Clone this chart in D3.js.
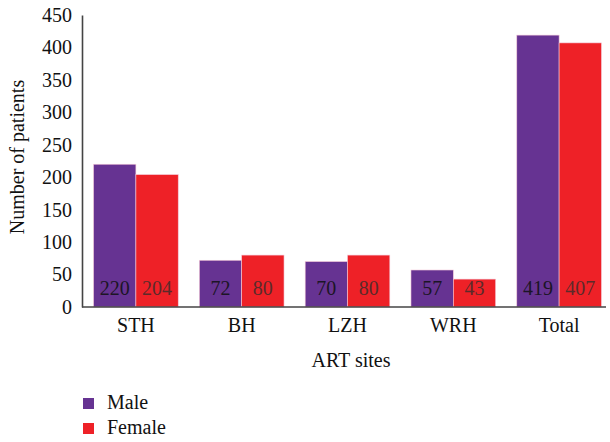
<!DOCTYPE html>
<html>
<head>
<meta charset="utf-8">
<script src="https://cdn.jsdelivr.net/npm/d3@7"></script>
<style>
  body { margin: 0; background: #fff; }
</style>
</head>
<body>
<div id="chart"></div>
<script>
// data
const sites = ["STH", "BH", "LZH", "WRH", "Total"]
const male = [220, 72, 70, 57, 419]
const female = [204, 80, 80, 43, 407]
const yTicks = [0, 50, 100, 150, 200, 250, 300, 350, 400, 450]
const groups = ["Male", "Female"]
const colors = ["#663392", "#ee2127"]
const labelColors = ["#1c1526", "#5c2a2a"]

const svgWidth = 610
const svgHeight = 442

// pick the first serif face that is really installed
function pickFont() {
  let ctx = document.createElement("canvas").getContext("2d")
  let sample = "Number of patients 0123456789"
  ctx.font = "20px monospace"
  let base = ctx.measureText(sample).width
  let candidates = ["Liberation Serif", "Tinos", "Times New Roman", "DejaVu Serif", "Noto Serif", "FreeSerif"]
  for (let f of candidates) {
    ctx.font = `20px "${f}", monospace`
    if (Math.abs(ctx.measureText(sample).width - base) > 0.5) return `"${f}", serif`
  }
  return "serif"
}
const fontFamily = pickFont()
const fs = "20px"

let svg = d3.select("#chart")
  .append("svg")
  .attr("width", svgWidth)
  .attr("height", svgHeight)
  .style("font-family", fontFamily)

let x0 = d3.scaleBand()
  .domain(sites)
  .range([83, 612])
  .paddingInner(0.2)
  .paddingOuter(0.1)

let x1 = d3.scaleBand()
  .domain(groups)
  .range([0, x0.bandwidth()])

let y = d3.scaleLinear()
  .domain([0, 450])
  .range([307, 15])

let rows = sites.map((s, i) => ({ site: s, values: [male[i], female[i]] }))

// bars
let siteG = svg.selectAll("g.site")
  .data(rows)
  .enter()
  .append("g")
  .attr("class", "site")
  .attr("transform", d => `translate(${x0(d.site)},0)`)

siteG.selectAll("rect")
  .data(d => d.values.map((v, k) => ({ g: groups[k], v: v, k: k })))
  .enter()
  .append("rect")
  .attr("x", d => x1(d.g))
  .attr("y", d => y(d.v))
  .attr("width", x1.bandwidth())
  .attr("height", d => y(0) - y(d.v))
  .attr("fill", d => colors[d.k])
  .attr("stroke", "#f3c8d8")
  .attr("stroke-width", 0.6)

siteG.selectAll("text.val")
  .data(d => d.values.map((v, k) => ({ g: groups[k], v: v, k: k })))
  .enter()
  .append("text")
  .attr("class", "val")
  .attr("x", d => x1(d.g) + x1.bandwidth() / 2)
  .attr("y", 295)
  .attr("text-anchor", "middle")
  .style("font-size", fs)
  .style("fill", d => labelColors[d.k])
  .text(d => d.v)

// axes
let leftAxis = d3.axisLeft(y).tickValues(yTicks).tickSize(0).tickPadding(10)
let yAxis = svg.append("g")
  .attr("transform", "translate(82,0)")
  .call(leftAxis)
  .attr("font-family", null)
yAxis.select(".domain").attr("stroke", "#444").attr("stroke-width", 1.6)
yAxis.selectAll("text").style("font-size", fs).style("fill", "#111")

let bottomAxis = d3.axisBottom(x0).tickSize(0).tickPadding(11)
let xAxis = svg.append("g")
  .attr("transform", "translate(0,307)")
  .call(bottomAxis)
  .attr("font-family", null)
xAxis.select(".domain").attr("d", "M82,0H606").attr("stroke", "#444").attr("stroke-width", 1.6)
xAxis.selectAll("text").style("font-size", fs).style("fill", "#111")

// axis titles
svg.append("text")
  .attr("transform", "translate(24,157) rotate(-90)")
  .attr("text-anchor", "middle")
  .style("font-size", fs)
  .style("fill", "#111")
  .text("Number of patients")

svg.append("text")
  .attr("x", 351)
  .attr("y", 367)
  .attr("text-anchor", "middle")
  .style("font-size", fs)
  .style("fill", "#111")
  .text("ART sites")

// legend
let legend = svg.selectAll("g.legend")
  .data(groups)
  .enter()
  .append("g")
  .attr("class", "legend")
  .attr("transform", (d, i) => `translate(83,${398 + i * 25})`)

legend.append("rect")
  .attr("width", 11)
  .attr("height", 11)
  .attr("fill", (d, i) => colors[i])

legend.append("text")
  .attr("x", 24)
  .attr("y", 11)
  .style("font-size", fs)
  .style("fill", "#111")
  .text(d => d)
</script>
</body>
</html>
